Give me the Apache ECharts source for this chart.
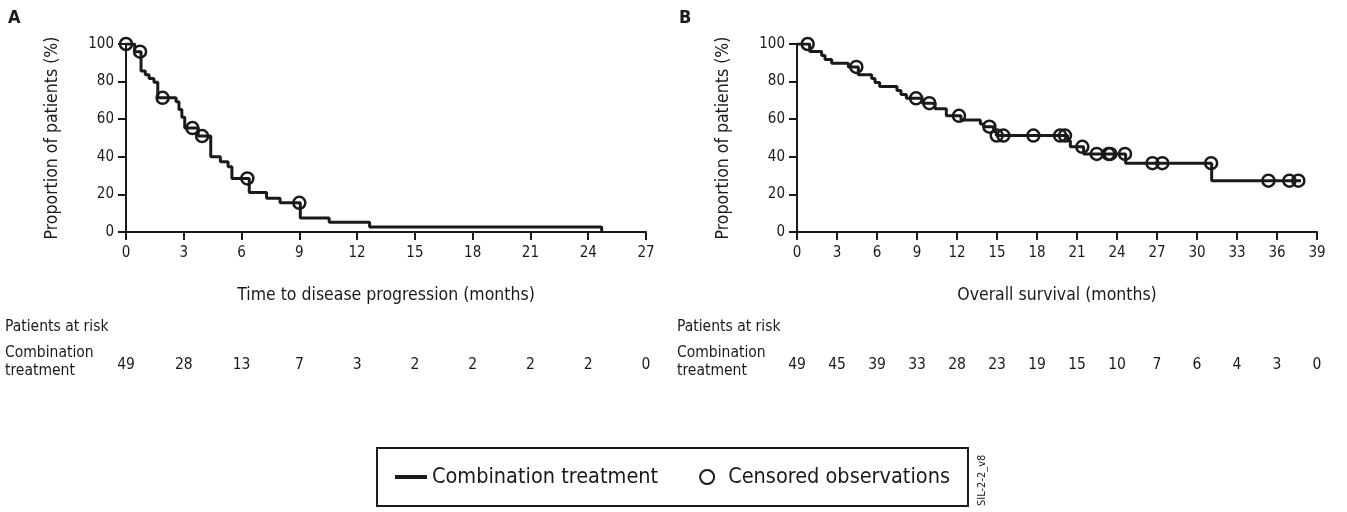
<!DOCTYPE html>
<html>
<head>
<meta charset="utf-8">
<script src="https://cdn.jsdelivr.net/npm/echarts@6/dist/echarts.min.js"></script>
<style>
  html, body { margin: 0; padding: 0; background: #fff; }
  #chart { width: 1347px; height: 512px; }
</style>
</head>
<body>
<div id="chart"></div>
<script>
// panel A: time to disease progression, KM steps [month, %]
var kmA = [
  [0, 100], [0.45, 95.9], [0.78, 85.7], [1.0, 83.6], [1.2, 81.6], [1.45, 79.6], [1.65, 71.4],
  [2.6, 69.3], [2.75, 65.2], [2.9, 61.1], [3.05, 55.3], [3.75, 51.0],
  [4.4, 40.0], [4.9, 37.4], [5.3, 34.7], [5.5, 28.5], [6.4, 21.0], [7.3, 18.0], [8.0, 15.5],
  [9.05, 7.5], [10.55, 5.2], [12.65, 2.6], [24.7, 0]
]
var censorA = [[0, 100], [0.73, 95.9], [1.9, 71.4], [3.45, 55.3], [3.95, 51.0], [6.3, 28.5], [9.0, 15.5]]

// panel B: overall survival
var kmB = [
  [0, 100], [0.95, 96.0], [1.85, 93.9], [2.1, 91.8], [2.6, 89.8], [3.85, 87.8], [4.6, 83.7],
  [5.6, 81.6], [5.85, 79.5], [6.2, 77.4], [7.5, 75.3], [7.8, 73.2], [8.2, 71.1], [9.4, 68.5],
  [10.35, 65.6], [11.2, 61.8], [12.3, 59.6], [13.75, 57.5], [14.0, 56.0], [14.75, 53.5], [14.95, 51.3],
  [20.3, 48.5], [20.5, 45.3], [21.5, 41.5], [24.65, 36.6], [31.1, 27.3], [37.8, 27.3]
]
var censorB = [
  [0.8, 100], [4.45, 87.8], [8.93, 71.1], [9.93, 68.5], [12.15, 61.8], [14.43, 56.0],
  [14.98, 51.3], [15.48, 51.3], [17.73, 51.3], [19.73, 51.3], [20.1, 51.3], [21.4, 45.3],
  [22.48, 41.5], [23.36, 41.5], [23.5, 41.5], [24.6, 41.5], [26.66, 36.6], [27.4, 36.6],
  [31.06, 36.6], [35.36, 27.3], [36.93, 27.3], [37.6, 27.3]
]

// patients at risk
var riskTimesA = [0, 3, 6, 9, 12, 15, 18, 21, 24, 27]
var riskA = [49, 28, 13, 7, 3, 2, 2, 2, 2, 0]
var riskTimesB = [0, 3, 6, 9, 12, 15, 18, 21, 24, 27, 30, 33, 36, 39]
var riskB = [49, 45, 39, 33, 28, 23, 19, 15, 10, 7, 6, 4, 3, 0]

var FONT = '"DejaVu Sans Condensed", "Liberation Sans Narrow", sans-serif'
var INK = '#1a1a1a'

function valueX(idx, max, title) {
  return {
    type: 'value', gridIndex: idx, min: 0, max: max, interval: 3,
    name: title, nameLocation: 'middle', nameGap: 54,
    nameTextStyle: { fontFamily: FONT, fontSize: 17.5, color: INK },
    axisLine: { lineStyle: { color: INK, width: 2 } },
    axisTick: { length: 8, lineStyle: { color: INK, width: 2 } },
    axisLabel: { margin: 14, fontFamily: FONT, fontSize: 15, color: INK },
    splitLine: { show: false }
  }
}
function valueY(idx) {
  return {
    type: 'value', gridIndex: idx, min: 0, max: 100, interval: 20,
    name: 'Proportion of patients (%)', nameLocation: 'middle', nameGap: 65,
    nameTextStyle: { fontFamily: FONT, fontSize: 17.5, color: INK },
    axisLine: { lineStyle: { color: INK, width: 2 } },
    axisTick: { length: 8, lineStyle: { color: INK, width: 2 } },
    axisLabel: { margin: 12, fontFamily: FONT, fontSize: 15, color: INK },
    splitLine: { show: false }
  }
}
function hiddenX(idx, max) {
  return { type: 'value', gridIndex: idx, min: 0, max: max, show: false }
}
function hiddenY(idx) {
  return { type: 'value', gridIndex: idx, min: -1, max: 1, show: false }
}
function kmSeries(idx, data) {
  return {
    name: 'Combination treatment', type: 'line', step: 'end',
    xAxisIndex: idx, yAxisIndex: idx, data: data,
    showSymbol: false, symbol: 'none',
    lineStyle: { color: INK, width: 3 }, itemStyle: { color: INK },
    z: 3
  }
}
function censorSeries(idx, data) {
  return {
    name: 'Censored observations', type: 'scatter',
    xAxisIndex: idx, yAxisIndex: idx, data: data,
    symbol: 'circle', symbolSize: 12,
    itemStyle: { color: 'rgba(0,0,0,0)', borderColor: INK, borderWidth: 2.5, opacity: 1 },
    z: 4
  }
}
function riskSeries(idx, times, counts) {
  return {
    type: 'scatter', xAxisIndex: idx, yAxisIndex: idx, symbolSize: 0,
    data: times.map(function (t, i) { return [t, 0, counts[i]] }),
    itemStyle: { color: INK, opacity: 1 },
    label: {
      show: true, position: 'inside', fontFamily: FONT, fontSize: 15.5, color: INK,
      textBorderWidth: 0,
      formatter: function (p) { return p.value[2] }
    },
    silent: true
  }
}

var chart = echarts.init(document.getElementById('chart'))
chart.setOption({
  animation: false,
  backgroundColor: '#fff',
  grid: [
    { left: 126, top: 44, width: 520, height: 188 },
    { left: 797, top: 44, width: 520, height: 188 },
    { left: 126, top: 353, width: 520, height: 24 },
    { left: 797, top: 353, width: 520, height: 24 }
  ],
  xAxis: [
    valueX(0, 27, 'Time to disease progression (months)'),
    valueX(1, 39, 'Overall survival (months)'),
    hiddenX(2, 27),
    hiddenX(3, 39)
  ],
  yAxis: [valueY(0), valueY(1), hiddenY(2), hiddenY(3)],
  legend: {
    left: 377, top: 448,
    data: [
      { name: 'Combination treatment', icon: 'path://M0,0 L32,0 L32,4 L0,4 Z', itemStyle: { color: INK } },
      { name: 'Censored observations' }
    ],
    itemWidth: 32, itemHeight: 14, itemGap: 41,
    padding: [18, 18],
    borderColor: INK, borderWidth: 2,
    textStyle: { fontFamily: FONT, fontSize: 21.5, color: INK }
  },
  series: [
    kmSeries(0, kmA), censorSeries(0, censorA),
    kmSeries(1, kmB), censorSeries(1, censorB),
    riskSeries(2, riskTimesA, riskA),
    riskSeries(3, riskTimesB, riskB)
  ],
  graphic: [
    { type: 'text', left: 8, top: 9, style: { text: 'A', font: 'bold 18px ' + FONT, fill: INK } },
    { type: 'text', left: 679, top: 9, style: { text: 'B', font: 'bold 18px ' + FONT, fill: INK } },
    { type: 'text', left: 5, top: 319, style: { text: 'Patients at risk', font: '15.5px ' + FONT, fill: INK } },
    { type: 'text', left: 5, top: 344, style: { text: 'Combination\ntreatment', font: '15.5px ' + FONT, fill: INK, lineHeight: 18 } },
    { type: 'text', left: 677, top: 319, style: { text: 'Patients at risk', font: '15.5px ' + FONT, fill: INK } },
    { type: 'text', left: 677, top: 344, style: { text: 'Combination\ntreatment', font: '15.5px ' + FONT, fill: INK, lineHeight: 18 } },
    { type: 'text', x: 977, y: 506, rotation: Math.PI / 2, style: { text: 'SIL-2-2_v8', font: '11px ' + FONT, fill: INK } }
  ]
})
</script>
</body>
</html>
